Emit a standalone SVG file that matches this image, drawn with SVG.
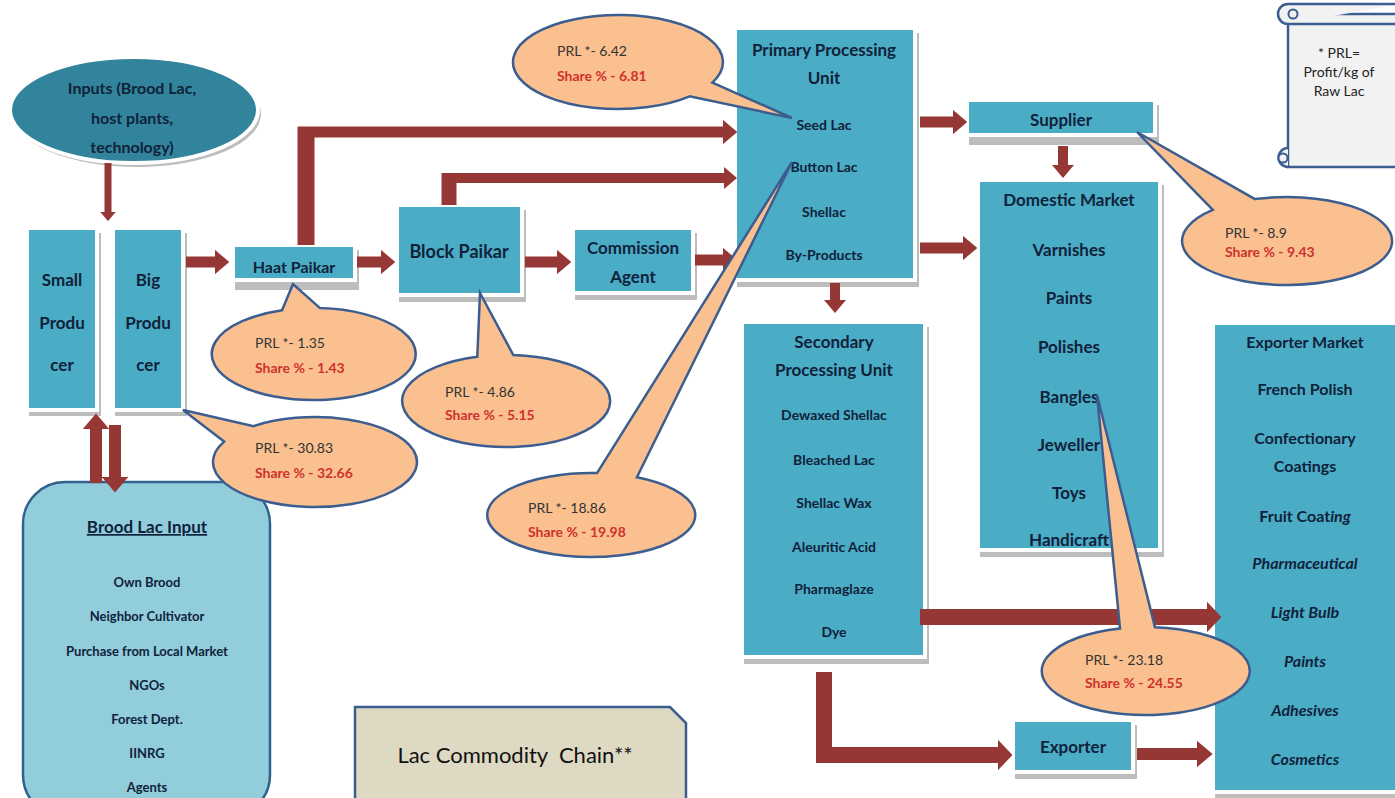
<svg xmlns="http://www.w3.org/2000/svg" width="1395" height="798" viewBox="0 0 1395 798">
<defs>
<style>
.bg{fill:#fff}
.shadow{fill:#BDBDBD}
.box{fill:#4BACC6;stroke:#fff;stroke-width:4}
.t{font-family:Lato,"Open Sans","Liberation Sans",sans-serif;font-weight:700;fill:#10223A;text-anchor:middle}
.s17{font-size:17px}.s16{font-size:16px}.s18{font-size:18px}.s14{font-size:14px}.s13{font-size:13px}
.it{font-style:italic}
.co{fill:#FAC090;stroke:#3B5D8F;stroke-width:2.5}
.prl{font-family:Lato,"Open Sans","Liberation Sans",sans-serif;font-size:14px;fill:#333}
.sh{font-weight:700;fill:#D0312D}
.ar{fill:none;stroke:#953735;stroke-linejoin:miter;marker-end:url(#ah)}
.arb{fill:none;stroke:#953735;stroke-linejoin:miter;marker-end:url(#ahb)}
.ln{fill:none;stroke:#953735;stroke-linejoin:miter}
</style>
<marker id="ah" viewBox="0 0 13 22" refX="0" refY="11" markerWidth="1.3" markerHeight="2.2" orient="auto" markerUnits="strokeWidth">
<path d="M0,0 L13,11 L0,22 Z" fill="#953735"/>
</marker>
<marker id="ahb" viewBox="0 0 9 19" refX="0" refY="9.5" markerWidth="0.9" markerHeight="1.9" orient="auto" markerUnits="strokeWidth">
<path d="M0,0 L9,9.5 L0,19 Z" fill="#953735"/>
</marker>
</defs>
<rect class="bg" x="0" y="0" width="1395" height="798"/>

<g id="inputs">
<ellipse cx="137" cy="114" rx="124" ry="53" fill="#BDBDBD"/>
<ellipse cx="134" cy="110" rx="124" ry="53" fill="#31849B" stroke="#fff" stroke-width="4"/>
<text class="t s16" x="132" y="94">Inputs (Brood Lac,</text>
<text class="t s16" x="132" y="124">host plants,</text>
<text class="t s16" x="132" y="153">technology)</text>
</g>

<g id="small-producer">
<rect class="shadow" x="29" y="233" width="72" height="183"/>
<rect class="box" x="27" y="228" width="70" height="182"/>
<text class="t s17" x="62" y="286">Small</text>
<text class="t s17" x="62" y="329">Produ</text>
<text class="t s17" x="62" y="371">cer</text>
</g>

<g id="big-producer">
<rect class="shadow" x="115" y="233" width="72" height="183"/>
<rect class="box" x="113" y="228" width="70" height="182"/>
<text class="t s17" x="148" y="286">Big</text>
<text class="t s17" x="148" y="329">Produ</text>
<text class="t s17" x="148" y="371">cer</text>
</g>

<g id="brood-lac-input">
<rect x="23" y="482" width="247" height="335" rx="42" fill="#92CDDC" stroke="#31618C" stroke-width="2.5"/>
<text class="t s17" x="147" y="533" text-decoration="underline">Brood Lac Input</text>
<text class="t s13" x="147" y="587">Own Brood</text>
<text class="t s13" x="147" y="621">Neighbor Cultivator</text>
<text class="t s13" x="147" y="656">Purchase from Local Market</text>
<text class="t s13" x="147" y="690">NGOs</text>
<text class="t s13" x="147" y="724">Forest Dept.</text>
<text class="t s13" x="147" y="758">IINRG</text>
<text class="t s13" x="147" y="792">Agents</text>
</g>

<g id="haat-paikar">
<rect class="shadow" x="235" y="250" width="124" height="40"/>
<rect class="box" x="233" y="245" width="122" height="35"/>
<text class="t s16" x="294" y="273">Haat Paikar</text>
</g>

<g id="block-paikar">
<rect class="shadow" x="399" y="210" width="127" height="92"/>
<rect class="box" x="397" y="205" width="125" height="90"/>
<text class="t s18" x="459" y="258">Block Paikar</text>
</g>

<g id="commission-agent">
<rect class="shadow" x="575" y="233" width="122" height="67"/>
<rect class="box" x="573" y="228" width="120" height="65"/>
<text class="t s17" x="633" y="254">Commission</text>
<text class="t s17" x="633" y="283">Agent</text>
</g>

<g id="primary-processing">
<rect class="shadow" x="737" y="33" width="182" height="254"/>
<rect class="box" x="735" y="28" width="180" height="252"/>
<text class="t s17" x="824" y="56">Primary Processing</text>
<text class="t s17" x="824" y="84">Unit</text>
<text class="t s14" x="824" y="130">Seed Lac</text>
<text class="t s14" x="824" y="172">Button Lac</text>
<text class="t s14" x="824" y="217">Shellac</text>
<text class="t s14" x="824" y="260">By-Products</text>
</g>

<g id="supplier">
<rect class="shadow" x="969" y="105" width="190" height="40"/>
<rect class="box" x="967" y="100" width="188" height="35"/>
<text class="t s17" x="1061" y="126">Supplier</text>
</g>

<g id="domestic-market">
<rect class="shadow" x="980" y="185" width="184" height="372"/>
<rect class="box" x="978" y="180" width="182" height="370"/>
<text class="t s17" x="1069" y="206">Domestic Market</text>
<text class="t s17" x="1069" y="256">Varnishes</text>
<text class="t s17" x="1069" y="304">Paints</text>
<text class="t s17" x="1069" y="353">Polishes</text>
<text class="t s17" x="1069" y="403">Bangles</text>
<text class="t s17" x="1069" y="451">Jeweller</text>
<text class="t s17" x="1069" y="499">Toys</text>
<text class="t s17" x="1069" y="546">Handicraft</text>
</g>

<g id="secondary-processing">
<rect class="shadow" x="744" y="327" width="185" height="337"/>
<rect class="box" x="742" y="322" width="183" height="335"/>
<text class="t s17" x="834" y="348">Secondary</text>
<text class="t s17" x="834" y="376">Processing Unit</text>
<text class="t s14" x="834" y="420">Dewaxed Shellac</text>
<text class="t s14" x="834" y="465">Bleached Lac</text>
<text class="t s14" x="834" y="508">Shellac Wax</text>
<text class="t s14" x="834" y="552">Aleuritic Acid</text>
<text class="t s14" x="834" y="594">Pharmaglaze</text>
<text class="t s14" x="834" y="637">Dye</text>
</g>

<g id="exporter">
<rect class="shadow" x="1015" y="725" width="122" height="54"/>
<rect class="box" x="1013" y="720" width="120" height="52"/>
<text class="t s17" x="1073" y="753">Exporter</text>
</g>

<g id="exporter-market">
<rect class="shadow" x="1215" y="328" width="190" height="471"/>
<rect class="box" x="1213" y="323" width="188" height="469"/>
<text class="t s16" x="1305" y="348">Exporter Market</text>
<text class="t s16" x="1305" y="395">French Polish</text>
<text class="t s16" x="1305" y="444">Confectionary</text>
<text class="t s16" x="1305" y="472">Coatings</text>
<text class="t s16" x="1305" y="522">Fruit Coat<tspan class="it">ing</tspan></text>
<text class="t s16 it" x="1305" y="569">Pharmaceutical</text>
<text class="t s16 it" x="1305" y="618">Light Bulb</text>
<text class="t s16 it" x="1305" y="667">Paints</text>
<text class="t s16 it" x="1305" y="716">Adhesives</text>
<text class="t s16 it" x="1305" y="765">Cosmetics</text>
</g>

<g id="title">
<path d="M355,707 H670 L686,723 V800 H355 Z" fill="#DDD9C3" stroke="#3B5D8F" stroke-width="2.5"/>
<text x="515" y="763" style="white-space:pre" font-family="Lato,'Open Sans','Liberation Sans',sans-serif" font-size="22" fill="#111" text-anchor="middle">Lac Commodity  Chain**</text>
</g>

<g id="legend-scroll">
<rect x="1288" y="14" width="115" height="153" fill="#F2F2F2" stroke="#3B5D8F" stroke-width="2.5"/>
<path d="M1288,24 A10,10 0 0 1 1288,4 H1400" fill="#F2F2F2" stroke="#3B5D8F" stroke-width="2.5"/>
<path d="M1288,24 H1400" fill="none" stroke="#3B5D8F" stroke-width="2.5"/>
<circle cx="1293" cy="14" r="4.5" fill="#F2F2F2" stroke="#3B5D8F" stroke-width="2"/>
<path d="M1288,148 A9.5,9.5 0 1 0 1288,167" fill="#F2F2F2" stroke="#3B5D8F" stroke-width="2.5"/>
<circle cx="1283" cy="158" r="4.5" fill="#F2F2F2" stroke="#3B5D8F" stroke-width="2"/>
<text x="1339" y="58" font-family="Lato,'Open Sans','Liberation Sans',sans-serif" font-size="14" fill="#222" text-anchor="middle">* PRL=</text>
<text x="1339" y="77" font-family="Lato,'Open Sans','Liberation Sans',sans-serif" font-size="14" fill="#222" text-anchor="middle">Profit/kg of</text>
<text x="1339" y="96" font-family="Lato,'Open Sans','Liberation Sans',sans-serif" font-size="14" fill="#222" text-anchor="middle">Raw Lac</text>
</g>

<g id="connectors">
<path class="ar" stroke-width="7" d="M108,163 V212"/>
<path class="ar" stroke-width="11" d="M186,262 H215"/>
<path class="ar" stroke-width="11" d="M357,262 H381"/>
<path class="ar" stroke-width="11" d="M525,262 H557"/>
<path class="ar" stroke-width="11" d="M695,260 H723"/>
<path class="ln" stroke-width="17" d="M306,245 V127"/>
<path class="ar" stroke-width="11" d="M298,132 H723"/>
<path class="ln" stroke-width="15" d="M449,205 V173"/>
<path class="ar" stroke-width="10" d="M442,178 H724"/>
<path class="ar" stroke-width="11" d="M920,122 H953"/>
<path class="ar" stroke-width="11" d="M920,248 H963"/>
<path class="ar" stroke-width="10" d="M835,283 V300"/>
<path class="ar" stroke-width="10" d="M1063,146 V165"/>
<path class="arb" stroke-width="16" d="M920,617 H1207"/>
<path class="arb" stroke-width="16" d="M824,672 V755 H998"/>
<path class="ar" stroke-width="12" d="M1137,754 H1197"/>
<path class="ar" stroke-width="12" d="M96,483 V429"/>
<path class="ar" stroke-width="12" d="M115,425 V477"/>
</g>

<g id="callout-primary">
<path class="co" d="M712.4,82.6 L792,118 L689.6,96.4 A105,47 0 1 1 712.4,82.6 Z"/>
<text class="prl" x="557" y="56">PRL *- 6.42</text>
<text class="prl sh" x="557" y="81">Share % - 6.81</text>
</g>
<g id="callout-haat">
<path class="co" d="M282,310.3 L293,284 L320,308.1 A102,46 0 1 1 282,310.3 Z"/>
<text class="prl" x="255" y="348">PRL *- 1.35</text>
<text class="prl sh" x="255" y="373">Share % - 1.43</text>
</g>
<g id="callout-big-producer">
<path class="co" d="M224.1,441.6 L183,410 L253.6,426.1 A102,45 0 1 1 224.1,441.6 Z"/>
<text class="prl" x="255" y="453">PRL *- 30.83</text>
<text class="prl sh" x="255" y="478">Share % - 32.66</text>
</g>
<g id="callout-block">
<path class="co" d="M477.3,356.8 L480,293 L513.3,355.1 A104,46 0 1 1 477.3,356.8 Z"/>
<text class="prl" x="445" y="397">PRL *- 4.86</text>
<text class="prl sh" x="445" y="420">Share % - 5.15</text>
</g>
<g id="callout-commission">
<path class="co" d="M597,473.1 L792,162 L636.9,477.3 A104,42 0 1 1 597,473.1 Z"/>
<text class="prl" x="528" y="513">PRL *- 18.86</text>
<text class="prl sh" x="528" y="537">Share % - 19.98</text>
</g>
<g id="callout-supplier">
<path class="co" d="M1212.8,209.9 L1137,132 L1255,199.1 A105,44 0 1 1 1212.8,209.9 Z"/>
<text class="prl" x="1225" y="238">PRL *- 8.9</text>
<text class="prl sh" x="1225" y="257">Share % - 9.43</text>
</g>
<g id="callout-market">
<path class="co" d="M1120,628.4 L1097,395 L1155,627.2 A104,44 0 1 1 1120,628.4 Z"/>
<text class="prl" x="1085" y="665">PRL *- 23.18</text>
<text class="prl sh" x="1085" y="688">Share % - 24.55</text>
</g>
</svg>
